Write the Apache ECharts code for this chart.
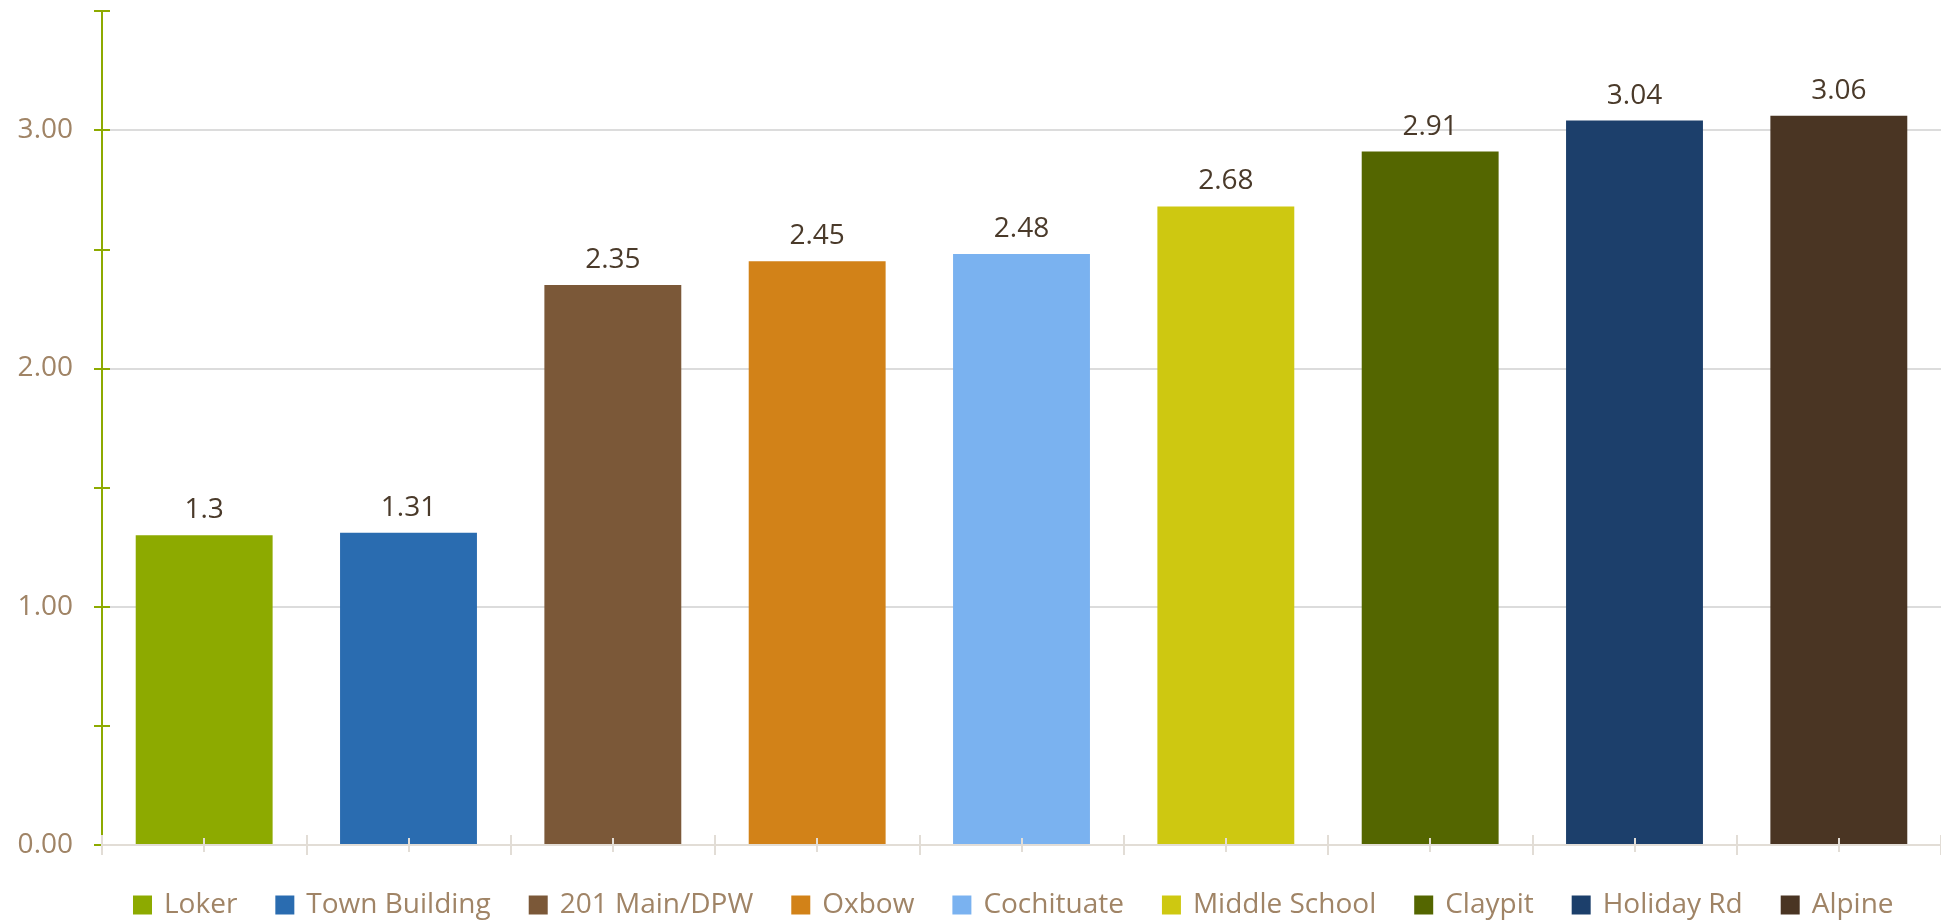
<!DOCTYPE html>
<html>
<head>
<meta charset="utf-8">
<script src="https://cdn.jsdelivr.net/npm/echarts@6/dist/echarts.min.js"></script>
<style>
html,body{margin:0;padding:0;background:#fff;}
#chart{width:1941px;height:924px;}
</style>
</head>
<body>
<div id="chart"></div>
<script>
const categories = ['Loker','Town Building','201 Main/DPW','Oxbow','Cochituate','Middle School','Claypit','Holiday Rd','Alpine'];
const values = [1.3, 1.31, 2.35, 2.45, 2.48, 2.68, 2.91, 3.04, 3.06];
const colors = ['#8DAA00','#2A6CB0','#7B5838','#D28218','#7AB2F0','#CEC811','#546600','#1C3F6B','#4A3523'];
const yMin = 0, yMax = 3.5, yStep = 0.5;

const FONT = '"Open Sans", sans-serif';
const AXIS_X = '#E2DDD6';
const AXIS_Y = '#8DAA00';

const series = categories.map((name, i) => ({
  name: name,
  type: 'bar',
  barWidth: '67%',
  barGap: '-100%',
  itemStyle: { color: colors[i] },
  label: {
    show: true, position: 'top', distance: 11,
    color: '#4A3A2A', fontSize: 28, fontFamily: FONT,
    formatter: p => String(p.value)
  },
  data: categories.map((c, j) => (j === i ? values[i] : '-'))
}));

const catAxis = (extra) => Object.assign({
  type: 'category', data: categories, position: 'bottom', z: 5,
  axisLabel: { show: false },
  splitLine: { show: false },
  axisLine: { show: false }
}, extra);

const option = {
  animation: false,
  grid: { left: 102, width: 1843, top: 11, bottom: 79 },
  legend: {
    data: categories, top: 886, left: 128,
    icon: 'rect', itemWidth: 19, itemHeight: 19, itemGap: 38,
    textStyle: { color: '#A08466', fontSize: 28, fontFamily: FONT, padding: [0,0,0,7] }
  },
  xAxis: [
    catAxis({ axisLine: { show: true, lineStyle: { color: AXIS_X, width: 2 } },
      axisTick: { show: true, length: 10, lineStyle: { color: AXIS_X, width: 2 } } }),
    catAxis({ axisTick: { show: true, inside: true, length: 10, lineStyle: { color: AXIS_X, width: 2 } } }),
    catAxis({ axisTick: { show: true, alignWithLabel: true, inside: true, length: 7, lineStyle: { color: AXIS_X, width: 2 } } }),
    catAxis({ axisTick: { show: true, alignWithLabel: true, length: 7, lineStyle: { color: AXIS_X, width: 2 } } })
  ],
  yAxis: [
    {
      type: 'value', min: yMin, max: yMax, interval: yStep, position: 'left',
      axisLine: { show: true, lineStyle: { color: AXIS_Y, width: 2 } },
      axisTick: { show: true, length: 8, lineStyle: { color: AXIS_Y, width: 2 } },
      axisLabel: { color: '#A08466', fontSize: 28, fontFamily: FONT, margin: 29,
        formatter: v => (Math.abs(v % 1) < 1e-9 ? v.toFixed(2) : '') },
      splitLine: { show: true, lineStyle: { color: ['#D0D0D0', 'rgba(0,0,0,0)'], width: 1.5 } }
    },
    {
      type: 'value', min: yMin, max: yMax, interval: yStep, position: 'left',
      axisLine: { show: false },
      axisTick: { show: true, inside: true, length: 8, lineStyle: { color: AXIS_Y, width: 2 } },
      axisLabel: { show: false },
      splitLine: { show: false }
    }
  ],
  series: series
};

const chart = echarts.init(document.getElementById('chart'), null, { renderer: 'canvas' });
chart.setOption(option);
</script>
</body>
</html>
